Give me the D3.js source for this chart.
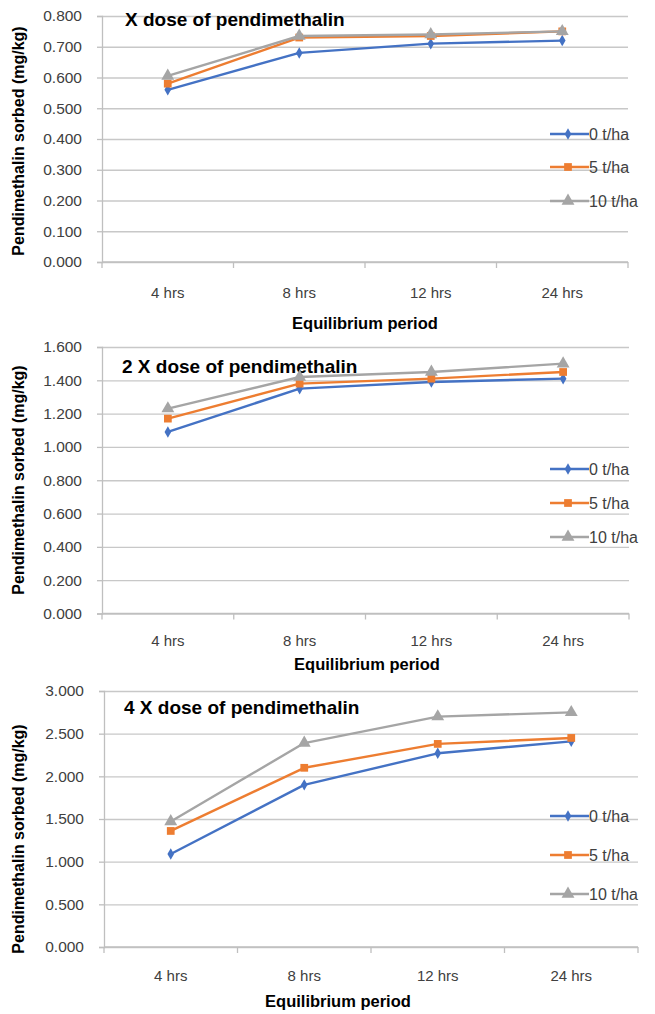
<!DOCTYPE html>
<html><head><meta charset="utf-8">
<script src="https://cdn.jsdelivr.net/npm/d3@7"></script>
<style>
html,body{margin:0;padding:0;background:#fff;}
svg{display:block;font-family:"Liberation Sans",Arial,sans-serif;}
</style></head>
<body><svg id="c" width="655" height="1014"></svg>
<script>
// ---- data ----
const categories = ["4 hrs", "8 hrs", "12 hrs", "24 hrs"];
const seriesNames = ["0 t/ha", "5 t/ha", "10 t/ha"];
const titles = ["X dose of pendimethalin", "2 X dose of pendimethalin", "4 X dose of pendimethalin"];

const dose1_0t = [0.56, 0.68, 0.71, 0.72];
const dose1_5t = [0.58, 0.73, 0.735, 0.75];
const dose1_10t = [0.605, 0.735, 0.74, 0.75];

const dose2_0t = [1.09, 1.35, 1.39, 1.41];
const dose2_5t = [1.17, 1.38, 1.41, 1.45];
const dose2_10t = [1.23, 1.42, 1.45, 1.50];

const dose4_0t = [1.09, 1.90, 2.27, 2.41];
const dose4_5t = [1.36, 2.10, 2.38, 2.45];
const dose4_10t = [1.47, 2.39, 2.70, 2.75];

const yTicks1 = [0, 0.1, 0.2, 0.3, 0.4, 0.5, 0.6, 0.7, 0.8];
const yTicks2 = [0, 0.2, 0.4, 0.6, 0.8, 1.0, 1.2, 1.4, 1.6];
const yTicks3 = [0, 0.5, 1.0, 1.5, 2.0, 2.5, 3.0];

const yTitle = "Pendimethalin sorbed (mg/kg)";
const xTitle = "Equilibrium period";

// ---- styles / layout ----
const colors = ["#4472C4", "#ED7D31", "#A5A5A5"];
const symbols = [d3.symbolDiamond, d3.symbolSquare, d3.symbolTriangle];
const symSizes = [38, 60, 72];

const panels = [
  {series: [dose1_0t, dose1_5t, dose1_10t], ticks: yTicks1, title: titles[0],
   x0: 102, x1: 628, yb: 262, yt: 16, titleX: 125, titleY: 26,
   catY: 298, xtY: 329, xtX: 365, ytY: 141, legY: [134, 167, 201]},
  {series: [dose2_0t, dose2_5t, dose2_10t], ticks: yTicks2, title: titles[1],
   x0: 102, x1: 629, yb: 613.5, yt: 347, titleX: 122, titleY: 373,
   catY: 646, xtY: 670, xtX: 367, ytY: 480, legY: [469, 503, 537]},
  {series: [dose4_0t, dose4_5t, dose4_10t], ticks: yTicks3, title: titles[2],
   x0: 104, x1: 638, yb: 947, yt: 691, titleX: 124, titleY: 714,
   catY: 981, xtY: 1007, xtX: 338, ytY: 839, legY: [816, 855, 894]}
];

const svg = d3.select("#c");
const fmt = d3.format(".3f");

panels.forEach(p => {
  const g = svg.append("g");
  const x = d3.scaleBand().domain(categories).range([p.x0, p.x1]);
  const y = d3.scaleLinear().domain([0, d3.max(p.ticks)]).range([p.yb, p.yt]);

  // gridlines
  g.append("g").attr("transform", `translate(${p.x0},0)`)
    .call(d3.axisLeft(y).tickValues(p.ticks).tickSize(-(p.x1 - p.x0)).tickFormat(""))
    .call(a => a.select(".domain").remove())
    .call(a => a.selectAll("line").attr("stroke", "#C8C8C8").attr("stroke-width", 1.3));

  // y axis
  g.append("g").attr("transform", `translate(${p.x0},0)`)
    .call(d3.axisLeft(y).tickValues(p.ticks).tickSize(5).tickPadding(15).tickFormat(fmt))
    .call(a => a.select(".domain").attr("stroke", "#BFBFBF").attr("stroke-width", 1.3))
    .call(a => a.selectAll("line").attr("stroke", "#BFBFBF").attr("stroke-width", 1.3))
    .call(a => a.selectAll("text").attr("font-size", 15.5).attr("fill", "#404040")
      .attr("font-family", "'Liberation Sans',Arial,sans-serif"));

  // x axis line + boundary ticks
  const bounds = categories.map(c => x(c)).concat([p.x1]);
  g.append("line").attr("x1", p.x0).attr("x2", p.x1).attr("y1", p.yb).attr("y2", p.yb)
    .attr("stroke", "#BFBFBF").attr("stroke-width", 1.3);
  g.selectAll(".bt").data(bounds).enter().append("line")
    .attr("x1", d => d).attr("x2", d => d).attr("y1", p.yb).attr("y2", p.yb + 6)
    .attr("stroke", "#BFBFBF").attr("stroke-width", 1.3);
  g.selectAll(".cl").data(categories).enter().append("text")
    .attr("x", d => x(d) + x.bandwidth() / 2).attr("y", p.catY)
    .attr("text-anchor", "middle").attr("font-size", 15).attr("fill", "#404040")
    .attr("font-family", "'Liberation Sans Narrow','Liberation Sans',Arial,sans-serif")
    .text(d => d);

  // axis titles
  g.append("text").attr("x", p.xtX).attr("y", p.xtY).attr("text-anchor", "middle")
    .attr("font-size", 16.5).attr("font-weight", "bold").attr("fill", "#000")
    .text(xTitle);
  g.append("text").attr("transform", `translate(24,${p.ytY}) rotate(-90)`)
    .attr("text-anchor", "middle").attr("font-size", 16).attr("font-weight", "bold").attr("fill", "#000")
    .text(yTitle);

  // chart title
  g.append("text").attr("x", p.titleX).attr("y", p.titleY)
    .attr("font-size", 19).attr("font-weight", "bold").attr("fill", "#000")
    .text(p.title);

  // series
  const line = d3.line().x((d, i) => x(categories[i]) + x.bandwidth() / 2).y(d => y(d));
  p.series.forEach((s, si) => {
    g.append("path").datum(s).attr("d", line).attr("fill", "none")
      .attr("stroke", colors[si]).attr("stroke-width", 2.4).attr("stroke-linejoin", "round");
    g.selectAll(".m" + si).data(s).enter().append("path")
      .attr("d", d3.symbol().type(symbols[si]).size(symSizes[si]))
      .attr("transform", (d, i) => `translate(${x(categories[i]) + x.bandwidth() / 2},${y(d)})`)
      .attr("fill", colors[si]);
  });

  // legend
  seriesNames.forEach((n, si) => {
    const ly = p.legY[si];
    g.append("line").attr("x1", 550).attr("x2", 589).attr("y1", ly).attr("y2", ly)
      .attr("stroke", colors[si]).attr("stroke-width", 2.4);
    g.append("path").attr("d", d3.symbol().type(symbols[si]).size(symSizes[si]))
      .attr("transform", `translate(568,${ly})`).attr("fill", colors[si]);
    g.append("text").attr("x", 589).attr("y", ly + 5.5).attr("font-size", 16)
      .attr("fill", "#404040").text(n);
  });
});
</script></body></html>
